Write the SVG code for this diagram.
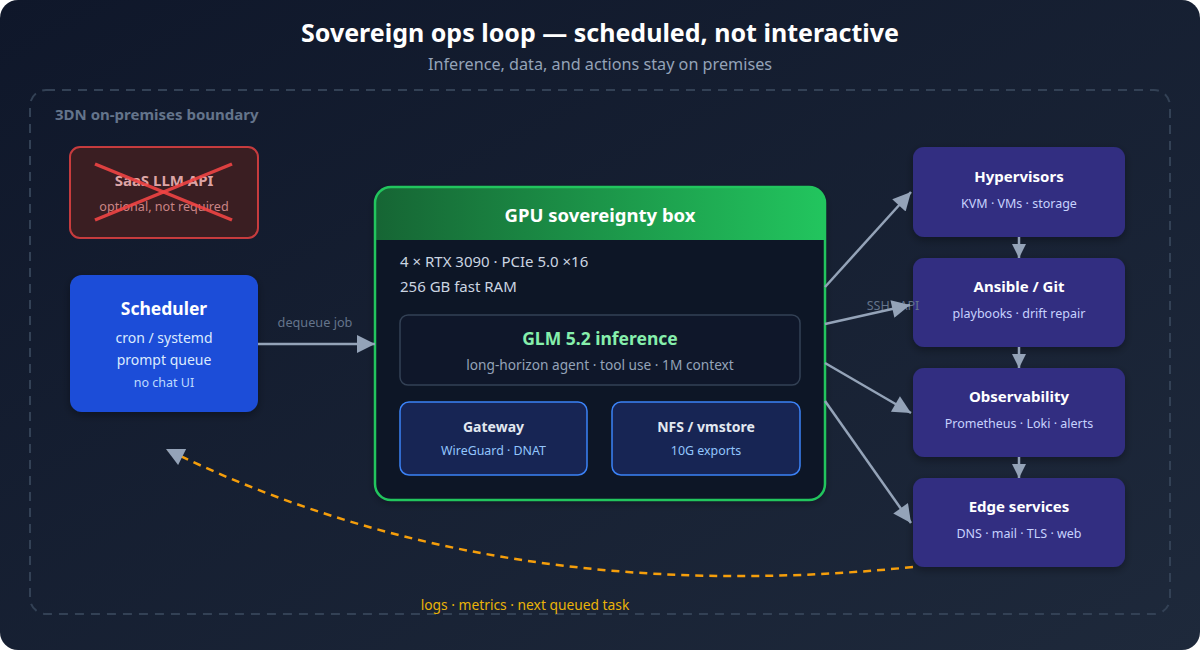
<svg xmlns="http://www.w3.org/2000/svg" width="1200" height="650" viewBox="0 0 1200 650">
<defs>
<linearGradient id="bg" x1="0" y1="0" x2="1" y2="1">
<stop offset="0" stop-color="#0f172a"/>
<stop offset="1" stop-color="#1e293b"/>
</linearGradient>
<linearGradient id="hdr" x1="0" y1="0" x2="1" y2="0">
<stop offset="0" stop-color="#166534"/>
<stop offset="1" stop-color="#22c55e"/>
</linearGradient>
<clipPath id="gpuclip"><rect x="375" y="187" width="450" height="313" rx="16"/></clipPath>
<filter id="sh" x="-10%" y="-10%" width="120%" height="130%">
<feDropShadow dx="0" dy="3" stdDeviation="4" flood-color="#000" flood-opacity="0.35"/>
</filter>
<marker id="ah" viewBox="0 0 10 10" refX="10" refY="5" markerWidth="20" markerHeight="18" markerUnits="userSpaceOnUse" orient="auto">
<path d="M0,0 L10,5 L0,10 z" fill="#94a3b8"/>
</marker>
<marker id="ahs" viewBox="0 0 10 10" refX="10" refY="5" markerWidth="15" markerHeight="14" markerUnits="userSpaceOnUse" orient="auto">
<path d="M0,0 L10,5 L0,10 z" fill="#94a3b8"/>
</marker>
</defs>
<style>
text{font-family:"Noto Sans","Open Sans","Liberation Sans",sans-serif}
.t{font-weight:700;fill:#ffffff;text-anchor:middle}
.c{text-anchor:middle}
.rb{fill:#312e81}
.rt{font-size:15px;font-weight:700;fill:#ffffff;text-anchor:middle}
.rs{font-size:12.5px;fill:#c7d2fe;text-anchor:middle}
.ib{fill:#172554;stroke:#3b82f6;stroke-width:1.5}
.it{font-size:14px;font-weight:700;fill:#e2e8f0;text-anchor:middle}
.is{font-size:12.4px;fill:#93c5fd;text-anchor:middle}
.conn{stroke:#94a3b8;stroke-width:2.5;fill:none}
</style>
<rect x="0" y="0" width="1200" height="650" fill="#ffffff"/>
<rect x="0" y="0" width="1200" height="650" rx="18" fill="url(#bg)"/>
<text x="600" y="42" class="t" font-size="25">Sovereign ops loop — scheduled, not interactive</text>
<text x="600" y="70" class="c" font-size="16.2" fill="#94a3b8">Inference, data, and actions stay on premises</text>

<g id="boundary">
<rect x="30" y="90" width="1140" height="524" rx="16" fill="none" stroke="#334155" stroke-width="2" stroke-dasharray="9 7"/>
<text x="55" y="120" font-size="15" font-weight="700" fill="#64748b">3DN on-premises boundary</text>
</g>

<g id="saas">
<rect x="70" y="147" width="188" height="91" rx="10" fill="#3a1e22" stroke="#ef4444" stroke-opacity="0.8" stroke-width="2"/>
<text x="164" y="186" class="c" font-size="15" font-weight="700" fill="#f3b8b8" fill-opacity="0.9">SaaS LLM API</text>
<text x="164" y="211" class="c" font-size="12.6" fill="#f0a0a0" fill-opacity="0.8">optional, not required</text>
<line x1="95" y1="164" x2="232" y2="220" stroke="#ef4444" stroke-opacity="0.9" stroke-width="3.5"/>
<line x1="95" y1="220" x2="232" y2="164" stroke="#ef4444" stroke-opacity="0.9" stroke-width="3.5"/>
</g>

<g id="scheduler">
<rect x="70" y="275" width="188" height="137" rx="12" fill="#1d4ed8" filter="url(#sh)"/>
<text x="164" y="315" class="t" font-size="17.5">Scheduler</text>
<text x="164" y="343" class="c" font-size="14" fill="#dbeafe">cron / systemd</text>
<text x="164" y="365" class="c" font-size="14" fill="#dbeafe">prompt queue</text>
<text x="164" y="387" class="c" font-size="12.5" fill="#bfdbfe">no chat UI</text>
</g>

<g id="gpu">
<rect x="375" y="187" width="450" height="313" rx="16" fill="#111827" filter="url(#sh)"/>
<rect x="375" y="187" width="450" height="53" fill="url(#hdr)" clip-path="url(#gpuclip)"/>
<rect x="375" y="187" width="450" height="313" rx="16" fill="none" stroke="#22c55e" stroke-width="2.5"/>
<text x="600" y="222" class="t" font-size="18.5">GPU sovereignty box</text>
<text x="400" y="267" font-size="15" fill="#cbd5e1">4 × RTX 3090 · PCIe 5.0 ×16</text>
<text x="400" y="292" font-size="15" fill="#cbd5e1">256 GB fast RAM</text>
</g>

<g id="glm">
<rect x="400" y="315" width="400" height="70" rx="8" fill="#0f172a" stroke="#334155" stroke-width="1.5"/>
<text x="600" y="345" class="c" font-size="17.5" font-weight="700" fill="#86efac">GLM 5.2 inference</text>
<text x="600" y="370" class="c" font-size="13.7" fill="#94a3b8">long-horizon agent · tool use · 1M context</text>
</g>

<g id="gateway">
<rect x="400" y="402" width="187" height="73" rx="9" class="ib"/>
<text x="493.5" y="432" class="it">Gateway</text>
<text x="493.5" y="455" class="is">WireGuard · DNAT</text>
</g>

<g id="nfs">
<rect x="612" y="402" width="188" height="73" rx="9" class="ib"/>
<text x="706" y="432" class="it">NFS / vmstore</text>
<text x="706" y="455" class="is">10G exports</text>
</g>

<g id="hypervisors">
<rect x="913" y="147" width="212" height="90" rx="11" class="rb" filter="url(#sh)"/>
<text x="1019" y="182" class="rt">Hypervisors</text>
<text x="1019" y="208" class="rs">KVM · VMs · storage</text>
</g>
<g id="ansible">
<rect x="913" y="258" width="212" height="89" rx="11" class="rb" filter="url(#sh)"/>
<text x="1019" y="292" class="rt">Ansible / Git</text>
<text x="1019" y="318" class="rs">playbooks · drift repair</text>
</g>
<g id="observability">
<rect x="913" y="368" width="212" height="89" rx="11" class="rb" filter="url(#sh)"/>
<text x="1019" y="402" class="rt">Observability</text>
<text x="1019" y="428" class="rs">Prometheus · Loki · alerts</text>
</g>
<g id="edge">
<rect x="913" y="478" width="212" height="89" rx="11" class="rb" filter="url(#sh)"/>
<text x="1019" y="512" class="rt">Edge services</text>
<text x="1019" y="538" class="rs">DNS · mail · TLS · web</text>
</g>

<g id="connectors">
<text x="315" y="327" class="c" font-size="12.7" fill="#64748b">dequeue job</text>
<text x="893" y="310" class="c" font-size="12.5" fill="#64748b">SSH · API</text>
<line x1="258" y1="344" x2="375" y2="344" class="conn" marker-end="url(#ah)"/>
<line x1="825" y1="287" x2="911" y2="192" class="conn" marker-end="url(#ah)"/>
<line x1="825" y1="324" x2="910" y2="305" class="conn" marker-end="url(#ah)"/>
<line x1="825" y1="363" x2="911" y2="413" class="conn" marker-end="url(#ah)"/>
<line x1="825" y1="401" x2="911" y2="523" class="conn" marker-end="url(#ah)"/>
<line x1="1019" y1="237" x2="1019" y2="258" class="conn" stroke-width="2" marker-end="url(#ahs)"/>
<line x1="1019" y1="347" x2="1019" y2="368" class="conn" stroke-width="2" marker-end="url(#ahs)"/>
<line x1="1019" y1="457" x2="1019" y2="478" class="conn" stroke-width="2" marker-end="url(#ahs)"/>
<path d="M913,567 Q491,610 166,449" fill="none" stroke="#f59e0b" stroke-width="2.5" stroke-dasharray="8 6" marker-end="url(#ah)"/>
<text x="525" y="610" class="c" font-size="13.8" fill="#eab308">logs · metrics · next queued task</text>
</g>
</svg>
